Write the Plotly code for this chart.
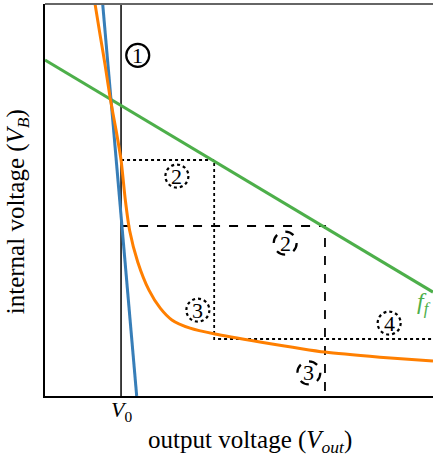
import plotly.graph_objects as go

# data (axis units: x 0..10, y 0..10)
v0 = 1.96
blue_x = [1.487, 2.363]
blue_y = [10.0, 0.0]
green_x = [0.0, 10.0]
green_y = [8.57, 2.65]
orange_x = [1.29, 1.42, 1.55, 1.68, 1.83, 1.96, 2.07, 2.18, 2.39, 2.68, 2.97, 3.27, 3.74, 4.38, 5.54, 7.22, 8.63, 10.0]
orange_y = [10.0, 9.21, 8.44, 7.60, 6.79, 6.02, 5.0, 4.23, 3.42, 2.70, 2.24, 1.94, 1.73, 1.58, 1.38, 1.12, 0.99, 0.89]
dot_x = [v0, 4.36, 4.36, 10.0]
dot_y = [6.02, 6.02, 1.454, 1.454]
dash_x = [v0, 7.216, 7.216]
dash_y = [4.337, 4.337, 0.0]
labels = ["1", "2", "2", "3", "3", "4"]
label_x = [2.39, 3.40, 6.19, 3.94, 6.80, 8.87]
label_y = [8.69, 5.61, 3.90, 2.19, 0.59, 1.86]
label_dash = ["solid", "dot", "dash", "dot", "dash", "dot"]

SERIF = "Liberation Serif"

fig = go.Figure()
fig.add_trace(go.Scatter(x=[v0, v0], y=[0, 10], mode="lines",
                         line=dict(color="black", width=1.5), hoverinfo="skip"))
fig.add_trace(go.Scatter(x=dot_x, y=dot_y, mode="lines",
                         line=dict(color="black", width=1.8, dash="dot")))
fig.add_trace(go.Scatter(x=dash_x, y=dash_y, mode="lines",
                         line=dict(color="black", width=1.8, dash="dash")))
fig.add_trace(go.Scatter(x=green_x, y=green_y, mode="lines",
                         line=dict(color="#4daf4a", width=3)))
fig.add_trace(go.Scatter(x=blue_x, y=blue_y, mode="lines",
                         line=dict(color="#377eb8", width=3)))
fig.add_trace(go.Scatter(x=orange_x, y=orange_y, mode="lines",
                         line=dict(color="#ff7f00", width=3, shape="spline", smoothing=0.6)))

for t, x, y, d in zip(labels, label_x, label_y, label_dash):
    fig.add_shape(type="circle", xref="x", yref="y", xsizemode="pixel", ysizemode="pixel",
                  xanchor=x, yanchor=y, x0=-11.5, x1=11.5, y0=-11.5, y1=11.5,
                  line=dict(color="black", width=2.2, dash=d))
    fig.add_annotation(x=x, y=y, xref="x", yref="y", text=t, showarrow=False,
                       font=dict(family=SERIF, size=22, color="black"),
                       xanchor="center", yanchor="middle")

fig.add_annotation(x=10, y=2.38, xref="x", yref="y", text="<i>f</i><sub><i>f</i></sub>",
                   xanchor="right", yanchor="middle",
                   showarrow=False, font=dict(family=SERIF, size=24, color="#4daf4a"))
fig.add_annotation(x=v0, y=0, xref="x", yref="y", text="<i>V</i><sub>0</sub>", showarrow=False,
                   xanchor="center", yanchor="top", yshift=1,
                   font=dict(family=SERIF, size=22, color="black"))

# axis titles
fig.add_annotation(x=0.528, y=-0.115, xref="paper", yref="paper",
                   xanchor="center", yanchor="middle",
                   text="output voltage (<i>V</i><sub><i>out</i></sub>)", showarrow=False,
                   font=dict(family=SERIF, size=25, color="black"))
fig.add_annotation(x=-0.072, y=0.469, xref="paper", yref="paper", textangle=-90,
                   xanchor="center", yanchor="middle",
                   text="internal voltage (<i>V</i><sub><i>B</i></sub>)", showarrow=False,
                   font=dict(family=SERIF, size=25, color="black"))

# top spine
fig.add_shape(type="line", xref="paper", yref="paper", x0=0, x1=1, y0=1, y1=1,
              line=dict(color="#666666", width=2))

fig.update_layout(
    width=433, height=462, showlegend=False,
    margin=dict(l=45, r=0, t=4, b=66),
    plot_bgcolor="white", paper_bgcolor="white",
    xaxis=dict(range=[0, 10], showgrid=False, zeroline=False, showticklabels=False,
               showline=True, linecolor="black", linewidth=1.5, ticks="", automargin=False),
    yaxis=dict(range=[0, 10], showgrid=False, zeroline=False, showticklabels=False,
               showline=True, linecolor="black", linewidth=1.5, ticks="", automargin=False),
)
fig.write_html("out.html", config={"displayModeBar": False},
               post_script="document.body.style.margin='0';document.body.style.overflow='hidden';")
